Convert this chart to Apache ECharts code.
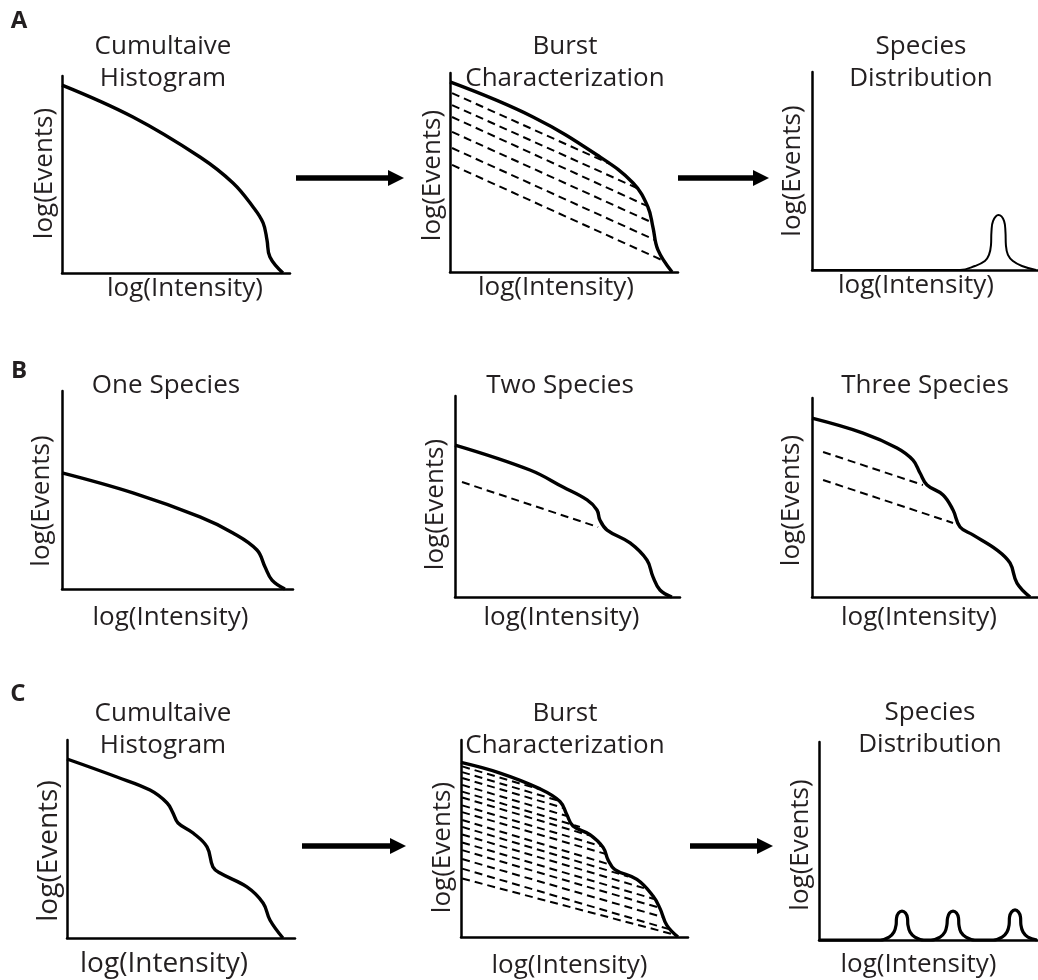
<!DOCTYPE html>
<html>
<head>
<meta charset="utf-8">
<script src="https://cdn.jsdelivr.net/npm/echarts@6/dist/echarts.min.js"></script>
<style>
html,body{margin:0;padding:0;background:#fff;}
#chart{width:1038px;height:980px;}
</style>
</head>
<body>
<div id="chart"></div>
<script>
// ---------------- DATA (x: log intensity 0-100, y: log events 0-100) ----------------
const panelLetters = ['A', 'B', 'C'];
const panelTitles = [
  'Cumultaive\nHistogram', 'Burst\nCharacterization', 'Species\nDistribution',
  'One Species', 'Two Species', 'Three Species',
  'Cumultaive\nHistogram', 'Burst\nCharacterization', 'Species\nDistribution'
];
const xAxisName = 'log(Intensity)';
const yAxisName = 'log(Events)';

// Row A
const a1Curve = [[0,95.4],[31.1,79.2],[60.5,58.9],[75.0,45.7],[83.8,33.5],[88.2,25.4],[89.9,16.8],[91.2,8.1],[96.9,0]];
const a2Curve = [[0,95.5],[36.4,77.9],[65.8,57.8],[80.3,44.7],[86.8,32.7],[89.0,22.6],[91.2,11.1],[97.4,0]];
const a2Bursts = [
  [[0.9,89.9],[70.2,54.3]],
  [[0.9,83.9],[82.0,42.2]],
  [[0.9,77.9],[86.4,33.2]],
  [[0.9,70.4],[88.2,25.1]],
  [[0.9,62.3],[89.9,16.1]],
  [[0.9,53.8],[93.9,5.5]]
];
const a3Distribution = [[0,0],[65.5,0],[72.1,2.0],[76.5,4.5],[78.3,7.6],[79.2,12.6],[79.4,19.2],[80.1,24.7],[82.5,27.8],[85.0,24.7],[85.6,19.2],[85.8,12.6],[86.7,7.6],[88.9,4.5],[92.9,2.0],[99.1,0]];

// Row B
const b1Curve = [[0,58.6],[30.7,48.5],[59.7,36.4],[74.0,28.3],[84.4,19.7],[87.9,11.1],[90.9,4.5],[96.5,0]];
const b2Curve = [[0,75.6],[33.3,63.2],[48.0,54.7],[58.7,48.3],[63.1,43.3],[64.4,38.3],[67.6,33.3],[77.8,26.9],[85.3,18.4],[88.0,10.0],[91.1,3.5],[96.4,0]];
const b2Species = [
  [[3.1,57.2],[63.6,34.8]]
];
const b3Curve = [[0,89.9],[22.6,82.4],[37.6,74.9],[44.7,68.8],[47.8,62.3],[50.9,56.3],[58.0,51.3],[62.4,43.7],[65.5,35.2],[71.2,31.2],[81.9,23.6],[87.6,17.1],[90.7,7.0],[96.5,0]];
const b3Species = [
  [[4.9,72.9],[49.1,56.3]],
  [[4.9,58.8],[62.4,37.2]]
];

// Row C
const c1Curve = [[0,90.4],[21.9,81.3],[36.4,74.7],[43.9,68.2],[46.5,63.1],[48.7,58.1],[55.3,53.0],[61.4,46.0],[64.0,35.9],[67.1,32.8],[78.9,25.8],[86.0,17.7],[89.0,9.1],[94.7,0]];
const c2Curve = [[0,88.6],[17.2,83.2],[34.8,75.2],[43.6,68.8],[46.7,61.9],[49.3,56.4],[56.8,52.0],[62.6,45.5],[64.8,39.1],[67.8,34.2],[77.5,29.2],[84.6,20.8],[87.7,14.4],[90.7,5.9],[95.6,0]];
const c2Bursts = [
  [[0.5,86.6],[33.9,75.2]],
  [[0.5,83.7],[42.7,69.3]],
  [[0.5,80.7],[45.8,65.3]],
  [[0.5,77.2],[46.7,61.4]],
  [[0.5,73.8],[52.4,55.9]],
  [[0.5,70.8],[56.8,51.5]],
  [[0.5,66.8],[62.1,46.0]],
  [[0.5,63.4],[63.9,42.1]],
  [[0.5,59.4],[66.1,36.6]],
  [[0.5,55.9],[73.6,30.7]],
  [[0.5,52.0],[80.6,24.8]],
  [[0.5,48.0],[85.0,19.3]],
  [[0.5,44.1],[87.2,14.9]],
  [[0.5,39.6],[89.4,9.9]],
  [[0.5,34.7],[91.6,4.0]],
  [[0.5,29.7],[94.7,1.0]]
];
const c3Distribution = [[0,0],
  [27.9,0],[32.0,1.5],[34.2,4.0],[35.2,7.6],[35.4,11.1],[36.3,13.6],[37.9,14.6],[39.5,13.6],[40.4,11.1],[40.6,7.6],[41.6,4.0],[43.8,1.5],[47.9,0],
  [51.1,0],[55.3,1.5],[57.5,4.0],[58.4,7.6],[58.7,11.1],[59.6,13.6],[61.2,14.6],[62.8,13.6],[63.7,11.1],[63.9,7.6],[64.8,4.0],[67.1,1.5],[71.2,0],
  [79.5,0],[83.6,1.5],[85.8,4.0],[86.8,7.6],[87.0,11.6],[87.9,14.1],[89.5,15.2],[91.1,14.1],[92.0,11.6],[92.2,7.6],[93.2,4.0],[95.4,1.5],[99.5,0]];

// Process arrows (page coordinates of the overlay)
const flowArrows = [
  [[296,178],[396,178]],
  [[678,178],[761,178]],
  [[302,846],[398,846]],
  [[690,846],[765,846]]
];

// ---------------- LAYOUT / STYLE ----------------
const FONT = 'Open Sans';
const TEXT = '#231f20';
const grids = [
  {left:62,  top:76,  width:228, height:197},
  {left:450, top:73,  width:228, height:199},
  {left:812, top:72,  width:226, height:198},
  {left:62,  top:391, width:231, height:198},
  {left:455, top:396, width:225, height:201},
  {left:812, top:398, width:226, height:199},
  {left:67,  top:740, width:228, height:198},
  {left:461, top:740, width:227, height:202},
  {left:819, top:742, width:219, height:198}
];
// per-panel axis-name placement: [xGap, xShift, yGap, yShift(down), fontSize]
const nameTweaks = [
  [3,  9, 4, -1, 26], [3, -8, 4, 3, 26], [3, -9, 6, 0, 26],
  [16, -7, 7, 11, 26], [8, -6, 6, 8, 26], [8, -6, 7, 3, 26],
  [12, -17, 4, 12, 28], [16, -5, 5, 9, 26], [12, -10, 5, 4, 26]
];
const titlePos = [
  [163,45],[565,45],[921,45],
  [166,384],[560,384],[925,384],
  [163,712],[565,712],[930,711]
];
const letterPos = [[19,21],[19,371],[18,694]];

const xAxes = [], yAxes = [], series = [];
grids.forEach((g, i) => {
  const [xg, xs, yg, ys, fs] = nameTweaks[i];
  xAxes.push({
    gridIndex:i, type:'value', min:0, max:100,
    axisLine:{show:true, onZero:false, lineStyle:{color:'#000', width:2.5}},
    axisTick:{show:false}, axisLabel:{show:false}, splitLine:{show:false},
    name:xAxisName, nameLocation:'middle', nameGap:xg,
    nameTextStyle:{fontFamily:FONT, fontSize:fs, color:TEXT,
      padding: xs >= 0 ? [0,0,0,2*xs] : [0,-2*xs,0,0]}
  });
  yAxes.push({
    gridIndex:i, type:'value', min:0, max:100,
    axisLine:{show:true, onZero:false, lineStyle:{color:'#000', width:2.5}},
    axisTick:{show:false}, axisLabel:{show:false}, splitLine:{show:false},
    name:yAxisName, nameLocation:'middle', nameGap:yg, nameRotate:90,
    nameTextStyle:{fontFamily:FONT, fontSize:fs, color:TEXT,
      padding: ys >= 0 ? [0,2*ys,0,0] : [0,0,0,-2*ys]}
  });
});
// overlay for arrows
grids.push({left:0, top:0, width:1038, height:980});
xAxes.push({gridIndex:9, type:'value', min:0, max:1038, show:false});
yAxes.push({gridIndex:9, type:'value', min:0, max:980, inverse:true, show:false});

function curve(idx, data, width) {
  series.push({type:'line', xAxisIndex:idx, yAxisIndex:idx, data:data, smooth:0.4,
    showSymbol:false, clip:false, silent:true,
    lineStyle:{color:'#000', width:width || 3.4}});
}
function dashed(idx, lines) {
  lines.forEach(l => series.push({type:'line', xAxisIndex:idx, yAxisIndex:idx, data:l,
    showSymbol:false, clip:false, silent:true,
    lineStyle:{color:'#000', width:2, type:[8,5]}}));
}

curve(0, a1Curve);
dashed(1, a2Bursts); curve(1, a2Curve);
curve(2, a3Distribution, 2);
curve(3, b1Curve);
dashed(4, b2Species); curve(4, b2Curve);
dashed(5, b3Species); curve(5, b3Curve);
curve(6, c1Curve);
dashed(7, c2Bursts); curve(7, c2Curve);
curve(8, c3Distribution, 3.2);

series.push({
  type:'lines', coordinateSystem:'cartesian2d', xAxisIndex:9, yAxisIndex:9,
  symbol:['none','triangle'], symbolSize:[26,16], silent:true,
  lineStyle:{color:'#000', width:5.5, opacity:1},
  itemStyle:{color:'#000'},
  data: flowArrows.map(c => ({coords:c}))
});

const graphics = [];
panelTitles.forEach((t, i) => graphics.push({
  type:'text', x:titlePos[i][0], y:titlePos[i][1],
  style:{text:t, font:'26px "' + FONT + '"', fill:TEXT, align:'center', verticalAlign:'top', lineHeight:32, y:-14}
}));
panelLetters.forEach((t, i) => graphics.push({
  type:'text', x:letterPos[i][0], y:letterPos[i][1],
  style:{text:t, font:'bold 24px "' + FONT + '"', fill:TEXT, align:'center', verticalAlign:'middle'}
}));

const chart = echarts.init(document.getElementById('chart'));
chart.setOption({
  animation:false,
  backgroundColor:'#fff',
  grid:grids, xAxis:xAxes, yAxis:yAxes, series:series, graphic:graphics
});
</script>
</body>
</html>
